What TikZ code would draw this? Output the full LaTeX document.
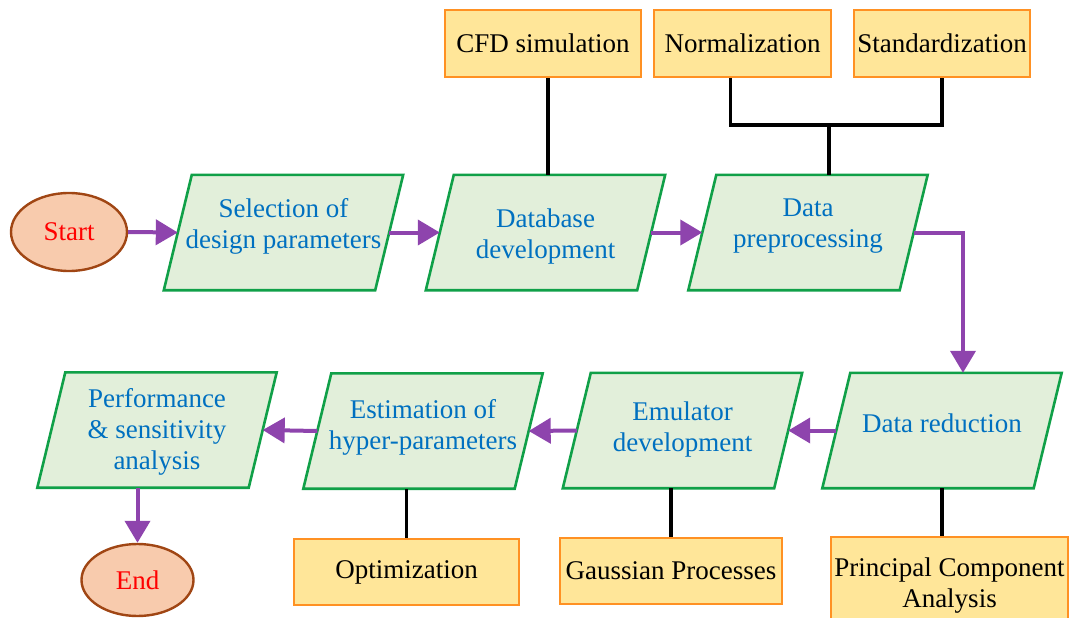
\documentclass[tikz,border=0pt]{standalone}
\usepackage{fontspec}
\setmainfont{Liberation Serif}
\usetikzlibrary{shapes.geometric,arrows.meta,backgrounds}
\definecolor{paraFill}{RGB}{226,239,218}
\definecolor{paraDraw}{RGB}{16,160,72}
\definecolor{textBlue}{RGB}{0,112,192}
\definecolor{orFill}{RGB}{255,230,153}
\definecolor{orDraw}{RGB}{255,145,35}
\definecolor{ovFill}{RGB}{248,203,173}
\definecolor{ovDraw}{RGB}{160,70,20}
\definecolor{flowPurple}{RGB}{142,68,173}
\begin{document}
\begin{tikzpicture}[x=1pt,y=-1pt,
  font=\fontsize{27}{31}\selectfont,
  para/.style={minimum width=211pt, minimum height=115pt, inner sep=0pt},
  paradraw/.style={draw=paraDraw, fill=paraFill, line width=2.6pt, line join=miter},
  ptext/.style={text=textBlue, align=center, inner sep=0pt},
  obox/.style={draw=orDraw, fill=orFill, line width=2.4pt, inner sep=0pt, align=center},
  oval/.style={ellipse, draw=ovDraw, fill=ovFill, line width=2.4pt, minimum width=116pt, minimum height=78pt, inner sep=0pt, text=red},
  flow/.style={draw=flowPurple, line width=4pt, -{Triangle[length=22pt,width=25pt]}},
  link/.style={draw=black, line width=3.5pt, line join=miter}]
\clip (0,0) rectangle (1071,618);

% start / end
\node[oval] (start) at (69,232) {Start};
\node[oval, minimum width=112pt, minimum height=72pt] (end) at (137.5,580) {End};

% process parallelograms
\node[para, label={[ptext,yshift=6pt]center:{Selection of\\design parameters}}] (sel) at (283.5,232.5) {};
\node[para, label={[ptext,yshift=-4pt]center:{Database\\development}}] (db) at (545.5,232.5) {};
\node[para, label={[ptext,yshift=6pt]center:{Data\\preprocessing}}] (dp) at (808,232.5) {};
\node[para, label={[ptext,yshift=7pt]center:{Data reduction}}] (dr) at (942,430.5) {};
\node[para, label={[ptext,yshift=1pt]center:{Emulator\\development}}] (emu) at (682.5,430.5) {};
\node[para, label={[ptext,yshift=4pt]center:{Estimation of\\hyper-parameters}}] (est) at (423,431) {};
\node[para, label={[ptext,yshift=-2pt]center:{Performance\\\& sensitivity\\analysis}}] (perf) at (157,430) {};

\begin{scope}[on background layer]
\foreach \n in {sel,db,dp,dr,emu,est,perf}{
  \draw[paradraw] ([xshift=-14pt]\n.south west) -- ([xshift=-14pt]\n.south east)
     -- ([xshift=14pt]\n.north east) -- ([xshift=14pt]\n.north west) -- cycle;}
\end{scope}

% method boxes
\node[obox, minimum width=196pt, minimum height=67pt] (cfd) at (543,43.5) {CFD simulation};
\node[obox, minimum width=177pt, minimum height=67pt] (norm) at (742.5,43.5) {Normalization};
\node[obox, minimum width=176pt, minimum height=67pt] (stand) at (942,43.5) {Standardization};
\node[obox, minimum width=225pt, minimum height=66pt] (opt) at (406.5,572) {Optimization};
\node[obox, minimum width=222pt, minimum height=66pt] (gauss) at (671,571) {Gaussian Processes};
\node[obox, minimum width=237pt, minimum height=97pt] (pca) at (949.5,585.5) {Principal Component\\Analysis};

% black links
\draw[link] ([xshift=5pt]cfd.south) -- ([xshift=5pt]cfd.south |- db.north);
\coordinate (j) at (829,125);
\draw[link] ([xshift=-12pt]norm.south) |- (j) -| (stand.south);
\draw[link] (j) -- (j |- dp.north);
\draw[link] (opt.north) -- (opt.north |- est.south);
\draw[link] (gauss.north) -- (gauss.north |- emu.south);
\draw[link] (dr.south) -- (dr.south |- pca.north);

% flow arrows
\draw[flow] (start.east) -- (sel.west);
\draw[flow] (sel.east) -- (db.west);
\draw[flow] (db.east) -- (dp.west);
\draw[flow] (dp.east) -| ([xshift=21pt]dr.north);
\draw[flow] (dr.west) -- (emu.east);
\draw[flow] (emu.west) -- (est.east);
\draw[flow] (est.west) -- (perf.east);
\draw[flow] (end.north |- perf.south) -- (end.north);
\end{tikzpicture}
\end{document}
